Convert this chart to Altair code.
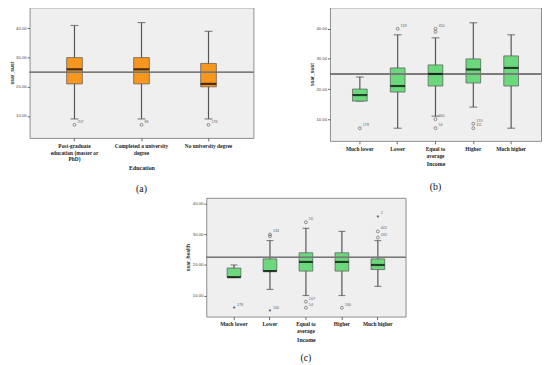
import altair as alt
import pandas as pd

# ---------- Panel (a): Education ----------
edu_cats = ["Post-graduate education (master or PhD)", "Completed a university degree", "No university degree"]
edu_lines = [["Post-graduate", "education (master or", "PhD)"], ["Completed a university", "degree"], ["No university degree"]]
edu_wlo = [9, 9, 9]
edu_q1 = [21, 21, 20]
edu_med = [26, 26, 21]
edu_q3 = [30, 30, 28]
edu_whi = [41, 42, 39]
edu_out_cat = ["Post-graduate education (master or PhD)", "Completed a university degree", "No university degree"]
edu_out_val = [7, 7, 7]
edu_out_lab = ["207", "86", "176"]
edu_out_kind = ["o", "o", "o"]

# ---------- Panel (b): Income vs ssar_sust ----------
inc_cats = ["Much lower", "Lower", "Equal to average", "Higher", "Much higher"]
inc_lines = [["Much lower"], ["Lower"], ["Equal to", "average"], ["Higher"], ["Much higher"]]
b_wlo = [16, 7, 11, 14, 7]
b_q1 = [16, 19, 21, 22, 21]
b_med = [18, 21, 25, 26.5, 27]
b_q3 = [20, 27, 28, 30, 31]
b_whi = [24, 38, 37, 42, 38]
b_out_cat = ["Much lower", "Lower", "Equal to average", "Equal to average", "Equal to average", "Equal to average", "Higher", "Higher"]
b_out_val = [7, 40, 40, 39, 10, 7, 8.5, 7]
b_out_lab = ["178", "119", "450", "", "460", "54", "170", "111"]
b_out_kind = ["o", "o", "o", "o", "o", "o", "o", "o"]

# ---------- Panel (c): Income vs ssar_health ----------
c_wlo = [16, 12, 10, 10, 13]
c_q1 = [16, 18, 18, 18, 18.5]
c_med = [16, 18, 21, 21, 20]
c_q3 = [19, 22, 24, 24, 22]
c_whi = [20, 28, 32, 31, 28]
c_out_cat = ["Much lower", "Lower", "Lower", "Lower", "Equal to average", "Equal to average", "Equal to average", "Higher", "Much higher", "Much higher", "Much higher"]
c_out_val = [6, 30, 29.4, 5, 34, 8, 6, 6, 36, 31, 29]
c_out_lab = ["178", "134", "", "140", "56", "107", "54", "180", "2", "402", "435"]
c_out_kind = ["s", "o", "o", "s", "o", "o", "o", "o", "s", "o", "o"]

ORANGE = "#f7971f"
GREEN = "#6cd87d"
SERIF = "Liberation Serif"
SANS = "Liberation Sans"


def label_expr(cats, lines):
    expr = "[" + ",".join(repr(l) for l in lines[-1]) + "]"
    for c, ls in reversed(list(zip(cats[:-1], lines[:-1]))):
        arr = "[" + ",".join(repr(l) for l in ls) + "]"
        expr = f"datum.value == {c!r} ? {arr} : ({expr})"
    return expr


def panel(cats, lines, wlo, q1, med, q3, whi, ocat, oval, olab, okind, ref, color,
          ytitle, xtitle, caption, W, H, ydom, pad, boxw, capw, cap_offset):
    box = pd.DataFrame(dict(cat=cats, wlo=wlo, q1=q1, med=med, q3=q3, whi=whi))
    out = pd.DataFrame(dict(cat=ocat, val=oval, lab=olab, kind=okind))

    xscale = alt.Scale(domain=cats, paddingInner=0, paddingOuter=pad - 0.5)
    xaxis = alt.Axis(title=xtitle, labelExpr=label_expr(cats, lines), labelAngle=0,
                     labelFont=SERIF, labelFontWeight="bold", labelFontSize=5.5,
                     labelLineHeight=7, labelColor="#222", labelPadding=2.5,
                     tickSize=3, tickColor="#666", domain=False, tickBand="center",
                     titleFont=SERIF, titleFontWeight="bold", titleFontSize=6,
                     titleColor="#222", titlePadding=2)
    xenc = alt.X("cat:N", scale=xscale, axis=xaxis)
    ys = alt.Scale(domain=ydom, nice=False, zero=False)
    yaxis = alt.Axis(title=ytitle, values=[10, 20, 30, 40], format=".2f", grid=False,
                     labelFont=SANS, labelFontSize=4.3, labelColor="#444", labelPadding=1,
                     tickSize=2.5, tickColor="#666", domain=False,
                     titleFont=SANS, titleFontWeight="bold", titleFontSize=5, titleColor="#333",
                     titlePadding=1.5)

    base = alt.Chart(box).encode(x=xenc)
    whisk = base.mark_rule(color="#555", strokeWidth=1.2).encode(
        y=alt.Y("wlo:Q", scale=ys, axis=yaxis), y2="whi:Q")
    cap_lo = base.mark_tick(color="#555", thickness=1.2, size=capw).encode(y="wlo:Q")
    cap_hi = base.mark_tick(color="#555", thickness=1.2, size=capw).encode(y="whi:Q")
    boxes = base.mark_bar(size=boxw, color=color, stroke="#555", strokeWidth=0.7).encode(
        y="q1:Q", y2="q3:Q")
    refl = alt.Chart(box).mark_rule(color="#777", strokeWidth=1).encode(y=alt.datum(ref))
    medl = base.mark_tick(color="black", thickness=2.2, size=boxw).encode(y="med:Q")

    obase = alt.Chart(out).encode(x=alt.X("cat:N"), y="val:Q")
    circ = obase.transform_filter(alt.datum.kind == "o").mark_point(
        shape="circle", filled=False, size=9, color="#444", strokeWidth=0.8)
    star = obase.transform_filter(alt.datum.kind == "s").mark_text(
        text="*", fontSize=7, font=SANS, color="#333", baseline="middle", dy=1.5)
    labs = obase.mark_text(align="left", baseline="middle", dx=3, dy=-3, fontSize=3.8,
                           font=SANS, color="#666").encode(text="lab:N")

    return alt.layer(whisk, cap_lo, cap_hi, boxes, refl, medl, circ, star, labs).properties(
        width=W, height=H,
        title=alt.Title(caption, orient="bottom", font=SERIF, fontSize=10, fontWeight="normal",
                        color="#111", offset=cap_offset))


pa = panel(edu_cats, edu_lines, edu_wlo, edu_q1, edu_med, edu_q3, edu_whi,
           edu_out_cat, edu_out_val, edu_out_lab, edu_out_kind, 25, ORANGE,
           "ssar_sust", "Education", "(a)", 228, 133, [2.5, 47.2], 0.67, 16, 8, 14)
pb = panel(inc_cats, inc_lines, b_wlo, b_q1, b_med, b_q3, b_whi,
           b_out_cat, b_out_val, b_out_lab, b_out_kind, 25, GREEN,
           "ssar_sust", "Income", "(b)", 215, 136, [2.8, 47.1], 0.79, 15, 8, 16)
pc = panel(inc_cats, inc_lines, c_wlo, c_q1, c_med, c_q3, c_whi,
           c_out_cat, c_out_val, c_out_lab, c_out_kind, 22.5, GREEN,
           "ssar_health", "Income", "(c)", 203, 121, [3.1, 42.0], 0.77, 14, 7, 11)

spacer = alt.Chart(pd.DataFrame({"v": [0]})).mark_point(opacity=0).encode(
    x=alt.value(0), y=alt.value(0)).properties(
    width=158, height=10, view=alt.ViewBackground(strokeOpacity=0, fillOpacity=0))

row1 = alt.hconcat(pa, pb, spacing=55)
row2 = alt.hconcat(spacer, pc, spacing=0)
chart = alt.vconcat(row1, row2, spacing=0).properties(
    padding={"left": 0, "top": -5, "right": 0, "bottom": 0}, background="white"
).configure_view(fill="#efefef", stroke="#8c8c8c", strokeWidth=1)

chart.save("out.html", embed_options={"renderer": "svg", "actions": False})
